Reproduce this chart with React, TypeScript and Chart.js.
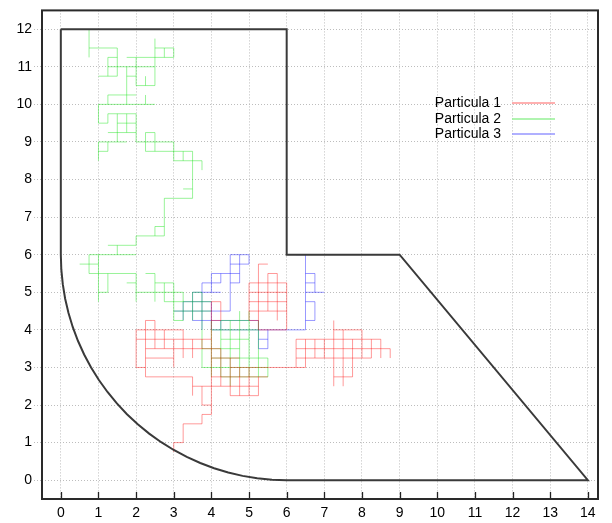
import React, { useEffect, useRef } from "react";
import { Chart, registerables } from "chart.js";

Chart.register(...registerables);

// ---------- axes ----------
const xTicks = [0, 1, 2, 3, 4, 5, 6, 7, 8, 9, 10, 11, 12, 13, 14];
const yTicks = [0, 1, 2, 3, 4, 5, 6, 7, 8, 9, 10, 11, 12];

// ---------- legend ----------
const seriesNames = ["Particula 1", "Particula 2", "Particula 3"];
const seriesColors = ["rgba(255,0,0,0.4)", "rgba(0,225,0,0.4)", "rgba(0,0,255,0.4)"];
const legendColors = ["rgb(255,150,150)", "rgb(150,240,150)", "rgb(150,150,255)"];

// ---------- domain boundary (corners + quarter arc) ----------
const boundary: number[][] = [
  [0, 12], [6, 12], [6, 6], [9, 6], [14, 0], [6, 0],
  [5.608, 0.013], [5.217, 0.052], [4.829, 0.115], [4.447, 0.204], [4.071, 0.318],
  [3.704, 0.457], [3.346, 0.619], [3.0, 0.804], [2.667, 1.011], [2.347, 1.24],
  [2.044, 1.489], [1.757, 1.757], [1.489, 2.044], [1.24, 2.347], [1.011, 2.667],
  [0.804, 3.0], [0.619, 3.346], [0.457, 3.704], [0.318, 4.071], [0.204, 4.447],
  [0.115, 4.829], [0.052, 5.217], [0.013, 5.608], [0, 6], [0, 12],
];

// ---------- Particula 1 (red): horizontal runs [y, x1, x2], vertical runs [x, y1, y2] ----------
const redH: number[][] = [
  [1, 3, 3.25], [1.5, 3.25, 3.75], [1.75, 3.75, 4], [2, 3.75, 4], [2.5, 3.5, 5.25],
  [2.25, 4.5, 5.25], [2.75, 2.25, 3.5], [2.75, 4, 5.5], [4.25, 2.25, 2.5], [4, 2, 3.25],
  [3.75, 2, 4], [3.5, 2.25, 4.25], [3.25, 2.25, 3], [3.25, 4, 4.75], [3, 2, 2.25],
  [3, 4.5, 6.5], [4.75, 4, 4.25], [4.25, 4, 4.25], [5.75, 5.25, 5.5], [5.5, 5.5, 5.75],
  [5.25, 5, 6], [5, 5, 6], [4.75, 5, 6], [4.5, 5, 6], [4.25, 5, 5.25], [4, 5.25, 6],
  [3.75, 6.25, 8.5], [3.5, 6.25, 8.75], [3.25, 6.25, 8.25], [4, 7.25, 8], [2.75, 7.25, 7.75],
];
const redV: number[][] = [
  [3, 0.75, 1], [3.25, 1, 1.5], [3.75, 1.5, 1.75], [4, 1.75, 2.5], [3.75, 2, 2.5],
  [3.5, 2.25, 2.75], [2.25, 2.75, 4.25], [2.5, 3.5, 4.25], [2, 3, 4], [2.75, 3.5, 4],
  [3, 3, 3.75], [3.25, 3.25, 4], [3.5, 3.25, 3.75], [3.75, 3.5, 3.75], [4, 2.5, 4.75],
  [4.25, 4.25, 4.75], [4.25, 2.5, 3.5], [4.5, 2.25, 3.25], [4.75, 2.25, 3], [5, 2.25, 3],
  [5.25, 2.25, 2.75], [5, 4.25, 5.25], [5.25, 4, 5.75], [5.5, 4.5, 5.5], [5.75, 4.25, 5.5],
  [6, 4, 5.25], [6.25, 3, 3.75], [6.5, 3, 3.75], [6.75, 3.25, 3.75], [7, 3.25, 3.75],
  [7.25, 2.5, 4.25], [7.5, 2.5, 4], [7.75, 2.75, 3.75], [8, 3.25, 4], [8.25, 3.25, 3.75],
  [8.5, 3.25, 3.75], [8.75, 3.25, 3.5],
];

// ---------- Particula 2 (green) ----------
const greenH: number[][] = [
  [11.5, 0.75, 1.5], [11.25, 1.25, 1.5], [10.75, 1, 1.5], [11, 1.25, 2.5], [11.25, 1.75, 2.5],
  [10.5, 2, 2.5], [10.75, 1.75, 2], [11.5, 2.5, 3], [11.25, 2.5, 3], [10.25, 1.25, 2],
  [10, 1, 2.5], [9.5, 1, 1.25], [9.75, 1.25, 2], [9.5, 1.5, 2], [9.25, 1.25, 2],
  [9, 1, 1.75], [8.75, 1, 1.25], [9, 2, 3], [9.25, 2.25, 2.5], [8.75, 2.25, 3.5],
  [8.5, 3, 3.75], [7.75, 3.25, 3.5], [7.5, 2.75, 3.5], [6.75, 2.5, 2.75], [6.5, 2, 2.75],
  [6.25, 1.25, 2], [6, 0.75, 2], [5.75, 0.5, 1], [5.5, 0.75, 2], [5, 1, 1.25],
  [5.25, 1.75, 2], [5.5, 2.25, 2.5], [5.25, 2.5, 3], [5, 2, 3.25], [4.75, 2.75, 4],
  [4.5, 3, 4], [4.25, 3, 3.25], [5, 3.5, 3.75], [3, 3.75, 5.5], [2.75, 4.25, 5.5],
  [3.25, 4, 5.5], [4, 4, 5.25], [4.25, 4.25, 5], [3.75, 4.25, 5], [3.5, 3.75, 4.75],
];
const greenV: number[][] = [
  [0.75, 11.25, 12], [1.5, 10.75, 11.5], [1.25, 10.75, 11.25], [1.75, 10, 11], [2, 10.5, 11.25],
  [2.5, 10.5, 11.75], [2.25, 10.5, 10.75], [2.75, 11.25, 11.5], [3, 11.25, 11.5], [1.25, 10, 10.25],
  [2.25, 10, 10.25], [1, 9.5, 10], [1.25, 9.5, 9.75], [1.5, 9, 9.75], [1.75, 9.25, 9.75],
  [2, 9, 9.75], [1, 8.5, 9], [1.25, 8.75, 9], [2.25, 8.75, 9.25], [2.5, 8.75, 9.25],
  [3, 8.5, 9], [3.75, 8.25, 8.5], [3.5, 7.5, 8.75], [3.25, 8.5, 8.75], [2.75, 6.5, 7.5],
  [2.5, 6.5, 6.75], [2, 6.25, 6.5], [1.5, 6, 6.25], [1, 4.75, 6], [0.75, 5.5, 6],
  [1.25, 5, 5.5], [2, 4.75, 5.5], [2.5, 4.75, 5.5], [2.75, 4.75, 5.25], [3, 4.25, 5.25],
  [3.25, 4.25, 5], [3.75, 3, 5], [3.5, 4.25, 5], [4, 2.75, 4.25], [4.25, 2.75, 4.25],
  [4.5, 2.5, 4.25], [4.75, 2.75, 4.5], [5, 2.75, 4.5], [5.25, 2.75, 4.25], [5.5, 2.75, 3.25],
];

// ---------- Particula 3 (blue) ----------
const blueH: number[][] = [
  [6, 4.5, 5], [5.75, 4.5, 5], [5.5, 4, 4.75], [5.25, 3.75, 4.25], [5.25, 4.5, 4.75],
  [5, 3.5, 4.25], [4.75, 3.25, 4], [4.5, 3, 4], [4.25, 3.5, 4], [4.25, 4, 5.25],
  [4, 4, 6.5], [3.75, 5.25, 5.5], [3.5, 5.25, 5.5], [6, 6.25, 6.5], [5.5, 6.5, 6.75],
  [5.25, 6.5, 6.75], [5, 6.5, 7], [4.75, 6.5, 6.75], [4.25, 6.5, 6.75], [4.5, 4, 4.5],
];
const blueV: number[][] = [
  [4.5, 4.5, 6], [4.75, 5.25, 6], [5, 5.75, 6], [4, 5, 5.5], [4.25, 5.25, 5.5],
  [3.75, 4, 5.25], [3.5, 4.25, 5], [3.25, 4.25, 4.75], [4, 4, 4.75], [4.25, 4, 4.25],
  [5.25, 3.5, 4.25], [5.5, 3.5, 4], [6.5, 4, 6], [6.75, 5, 5.5], [6.75, 4.25, 4.75],
];

type Pt = { x: number; y: number | null };

function runsToPoints(h: number[][], v: number[][]): Pt[] {
  const pts: Pt[] = [];
  for (const [y, x1, x2] of h) {
    pts.push({ x: x1, y }, { x: x2, y }, { x: x2, y: null });
  }
  for (const [x, y1, y2] of v) {
    pts.push({ x, y: y1 }, { x, y: y2 }, { x, y: null });
  }
  return pts;
}

const FONT = "'Liberation Sans', Arial, Helvetica, sans-serif";

const framePlugin = {
  id: "gnuFrame",
  afterDatasetsDraw(chart: any) {
    const { ctx, chartArea } = chart;
    const { left, right, top, bottom } = chartArea;
    const xs = chart.scales.x;
    ctx.save();
    // inward tick marks on bottom
    ctx.strokeStyle = "#222";
    ctx.lineWidth = 1.3;
    ctx.beginPath();
    for (const v of xTicks) {
      const px = Math.round(xs.getPixelForValue(v)) + 0.5;
      ctx.moveTo(px, bottom);
      ctx.lineTo(px, bottom - 7);
    }
    ctx.stroke();
    // frame
    ctx.strokeStyle = "#2a2a2a";
    ctx.lineWidth = 2;
    ctx.strokeRect(left, top, right - left, bottom - top);
    // legend
    ctx.font = `14px ${FONT}`;
    ctx.textAlign = "right";
    ctx.textBaseline = "middle";
    seriesNames.forEach((name, i) => {
      const y = top + 93 + i * 15.5;
      ctx.fillStyle = "#000";
      ctx.fillText(name, right - 97, y);
      ctx.beginPath();
      ctx.strokeStyle = legendColors[i];
      ctx.lineWidth = 1.5;
      ctx.moveTo(right - 86, Math.round(y));
      ctx.lineTo(right - 43, Math.round(y));
      ctx.stroke();
    });
    ctx.restore();
  },
};

export default function App() {
  const ref = useRef<HTMLCanvasElement | null>(null);

  useEffect(() => {
    if (!ref.current) return;
    const walkStyle = (color: string) => ({
      showLine: true,
      borderColor: color,
      backgroundColor: color,
      borderWidth: 1,
      pointRadius: 0,
      spanGaps: false,
      tension: 0,
    });
    const chart = new Chart(ref.current, {
      type: "scatter",
      data: {
        datasets: [
          {
            label: "boundary",
            data: boundary.map(([x, y]) => ({ x, y })),
            showLine: true,
            borderColor: "#3a3a3a",
            borderWidth: 2,
            pointRadius: 0,
            tension: 0,
          },
          { label: seriesNames[0], data: runsToPoints(redH, redV), ...walkStyle(seriesColors[0]) },
          { label: seriesNames[1], data: runsToPoints(greenH, greenV), ...walkStyle(seriesColors[1]) },
          { label: seriesNames[2], data: runsToPoints(blueH, blueV), ...walkStyle(seriesColors[2]) },
        ] as any,
      },
      options: {
        animation: false,
        responsive: true,
        maintainAspectRatio: false,
        events: [],
        layout: { padding: { top: 8, right: 14, left: 0, bottom: 0 } },
        plugins: { legend: { display: false }, tooltip: { enabled: false } },
        scales: {
          x: {
            type: "linear",
            min: -0.5,
            max: 14.27,
            afterBuildTicks: (s: any) => {
              s.ticks = xTicks.map((v) => ({ value: v }));
            },
            afterFit: (s: any) => {
              s.height = 24;
            },
            grid: { color: "#bdbdbd", lineWidth: 1, drawTicks: false, borderDash: [1, 2] } as any,
            border: { display: false, dash: [1, 2] },
            ticks: { color: "#000", font: { family: FONT, size: 14 }, padding: 6, maxRotation: 0 },
          },
          y: {
            type: "linear",
            min: -0.5,
            max: 12.5,
            afterBuildTicks: (s: any) => {
              s.ticks = yTicks.map((v) => ({ value: v }));
            },
            afterFit: (s: any) => {
              s.width = 42;
            },
            grid: {
              color: "#bdbdbd",
              lineWidth: 1,
              drawTicks: true,
              tickLength: 8,
              tickBorderDash: [1, 2],
              borderDash: [1, 2],
            } as any,
            border: { display: false, dash: [1, 2] },
            ticks: { color: "#000", font: { family: FONT, size: 14 }, padding: 2 },
          },
        },
      },
      plugins: [framePlugin],
    });
    return () => chart.destroy();
  }, []);

  return (
    <div style={{ position: "fixed", left: 0, top: 0, width: 612, height: 523, background: "#fff" }}>
      <canvas ref={ref} />
    </div>
  );
}
